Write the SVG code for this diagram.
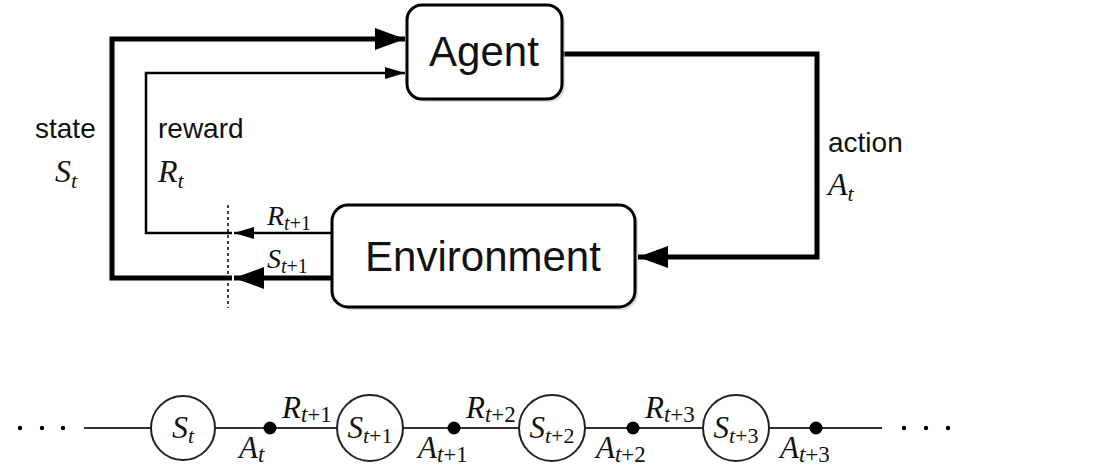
<svg xmlns="http://www.w3.org/2000/svg" width="1099" height="467" viewBox="0 0 1099 467">
<style>
.box{fill:#fff;stroke:#000;stroke-width:3}
.shadow{fill:#bbb;opacity:0.5}
.lbl{font-family:"Liberation Sans",Arial,sans-serif;font-size:28px;fill:#111}
.big{font-family:"Liberation Sans",Arial,sans-serif;font-size:42px;fill:#111;text-anchor:middle}
.m{font-family:"Liberation Serif","Times New Roman",serif;font-style:italic;fill:#111}
.up{font-style:normal}
.thick{fill:none;stroke:#000;stroke-width:5}
.thin{fill:none;stroke:#000;stroke-width:2.5}
.chain{fill:none;stroke:#333;stroke-width:2}
.circ{fill:#fff;stroke:#222;stroke-width:2}
.dot{fill:#000}
</style>
<defs>
<marker id="ah" markerUnits="userSpaceOnUse" markerWidth="30" markerHeight="22" refX="30" refY="11" orient="auto" viewBox="0 0 30 22"><path d="M0,0 L30,11 L0,22 z" fill="#000"/></marker>
<marker id="at" markerUnits="userSpaceOnUse" markerWidth="20" markerHeight="12" refX="20" refY="6" orient="auto" viewBox="0 0 20 12"><path d="M0,0 L20,6 L0,12 z" fill="#000"/></marker>
</defs>
<rect width="1099" height="467" fill="#fff"/>

<g id="connectors">
<path class="thick" d="M232,278 L112,278 L112,39 L405,39" marker-end="url(#ah)"/>
<path class="thick" d="M332,278 L234,278" marker-end="url(#ah)"/>
<path class="thin" d="M232,233 L146,233 L146,73 L405,73" marker-end="url(#at)"/>
<path class="thin" d="M332,233 L234,233" marker-end="url(#at)"/>
<path class="thick" d="M562,54 L817,54 L817,257 L638,257" marker-end="url(#ah)"/>
<line x1="228" y1="205" x2="228" y2="308" stroke="#000" stroke-width="1.5" stroke-dasharray="3,3"/>
</g>

<g id="agent">
<rect class="shadow" x="410" y="8" width="155" height="94" rx="15"/>
<rect class="box" x="407" y="5" width="155" height="94" rx="15"/>
<text class="big" x="484" y="66">Agent</text>
</g>

<g id="environment">
<rect class="shadow" x="335" y="208" width="303" height="102" rx="16"/>
<rect class="box" x="332" y="205" width="303" height="102" rx="16"/>
<text class="big" x="483" y="271">Environment</text>
</g>

<g id="labels">
<text class="lbl" x="35" y="138">state</text>
<text class="m" x="55" y="182" font-size="32">S<tspan font-size="22" dy="6">t</tspan></text>
<text class="lbl" x="158" y="138">reward</text>
<text class="m" x="158" y="182" font-size="32">R<tspan font-size="22" dy="6">t</tspan></text>
<text class="lbl" x="828" y="152">action</text>
<text class="m" x="828" y="195" font-size="32">A<tspan font-size="22" dy="6">t</tspan></text>
<text class="m" x="267" y="225" font-size="28">R<tspan font-size="20" dy="5">t</tspan><tspan class="up" font-size="20">+1</tspan></text>
<text class="m" x="267" y="268" font-size="28">S<tspan font-size="20" dy="5">t</tspan><tspan class="up" font-size="20">+1</tspan></text>
</g>

<g id="chain">
<line class="chain" x1="84" y1="428" x2="882" y2="428"/>
<g class="dot">
<circle cx="20" cy="428" r="2.2"/><circle cx="42" cy="428" r="2.2"/><circle cx="63" cy="428" r="2.2"/>
<circle cx="904" cy="428" r="2.2"/><circle cx="926" cy="428" r="2.2"/><circle cx="948" cy="428" r="2.2"/>
<circle cx="270" cy="428" r="6.5"/><circle cx="454" cy="428" r="6.5"/><circle cx="633" cy="428" r="6.5"/><circle cx="816" cy="428" r="6.5"/>
</g>
</g>

<g id="s_t">
<circle class="circ" cx="183" cy="428" r="32"/>
<text class="m" x="183" y="438" font-size="32" text-anchor="middle">S<tspan font-size="22" dy="5">t</tspan></text>
</g>
<g id="s_t1">
<circle class="circ" cx="370" cy="428" r="33"/>
<text class="m" x="370" y="438" font-size="31" text-anchor="middle">S<tspan font-size="22" dy="5">t</tspan><tspan class="up" font-size="22">+1</tspan></text>
</g>
<g id="s_t2">
<circle class="circ" cx="552" cy="428" r="33"/>
<text class="m" x="552" y="438" font-size="31" text-anchor="middle">S<tspan font-size="22" dy="5">t</tspan><tspan class="up" font-size="22">+2</tspan></text>
</g>
<g id="s_t3">
<circle class="circ" cx="736" cy="428" r="33"/>
<text class="m" x="736" y="438" font-size="31" text-anchor="middle">S<tspan font-size="22" dy="5">t</tspan><tspan class="up" font-size="22">+3</tspan></text>
</g>

<g id="chain-labels">
<text class="m" x="282" y="418" font-size="31">R<tspan font-size="23" dy="4">t</tspan><tspan class="up" font-size="23">+1</tspan></text>
<text class="m" x="466" y="418" font-size="31">R<tspan font-size="23" dy="4">t</tspan><tspan class="up" font-size="23">+2</tspan></text>
<text class="m" x="645" y="418" font-size="31">R<tspan font-size="23" dy="4">t</tspan><tspan class="up" font-size="23">+3</tspan></text>
<text class="m" x="239" y="458" font-size="31">A<tspan font-size="23" dy="4">t</tspan></text>
<text class="m" x="418" y="458" font-size="31">A<tspan font-size="23" dy="4">t</tspan><tspan class="up" font-size="23">+1</tspan></text>
<text class="m" x="596" y="458" font-size="31">A<tspan font-size="23" dy="4">t</tspan><tspan class="up" font-size="23">+2</tspan></text>
<text class="m" x="780" y="458" font-size="31">A<tspan font-size="23" dy="4">t</tspan><tspan class="up" font-size="23">+3</tspan></text>
</g>
</svg>
